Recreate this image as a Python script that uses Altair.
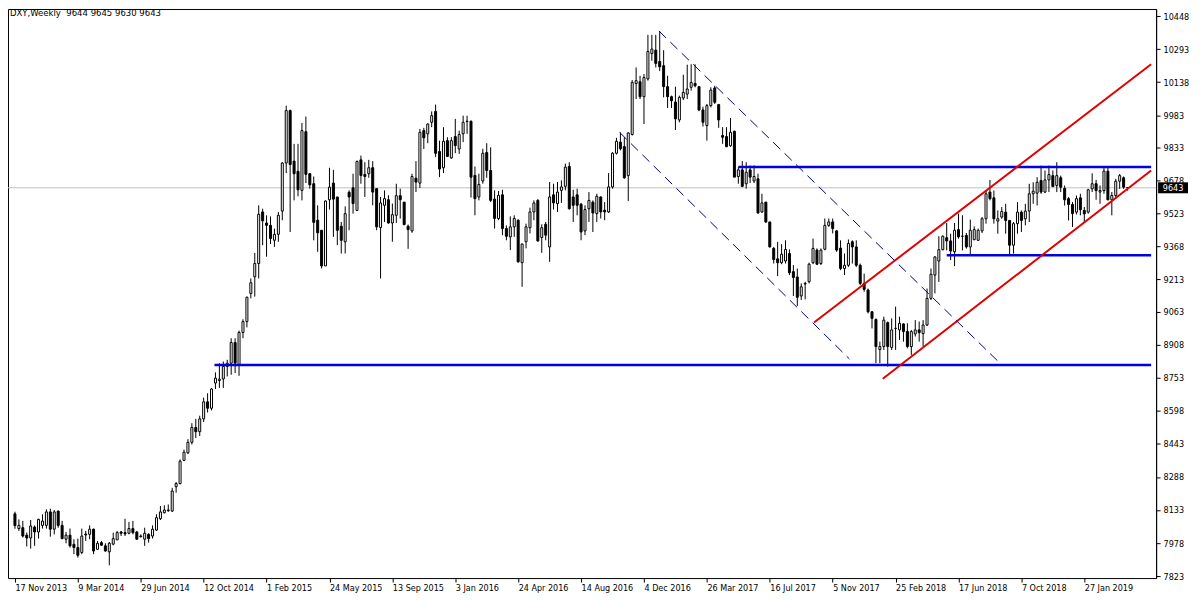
import altair as alt
import pandas as pd

# ---------------- data (weekly DXY candles, prices x100) ----------------
opens = [
    8115, 8046, 8050, 8015, 8002, 8053, 8030, 8061, 8061, 8124,
    8043, 8128, 8061, 7996, 8015, 7972, 7957, 7934, 8020, 8019,
    8043, 7949, 7980, 7965, 7937, 7973, 7993, 8030, 8027, 8024,
    8046, 8030, 8011, 7996, 8019, 8011, 8039, 8092, 8120, 8130,
    8128, 8242, 8257, 8366, 8401, 8450, 8520, 8500, 8560, 8640,
    8610, 8728, 8740, 8747, 8806, 8821, 8918, 8813, 8965, 9016,
    9148, 9226, 9288, 9530, 9478, 9467, 9397, 9425, 9534, 9759,
    10005, 9768, 9720, 9631, 9906, 9709, 9662, 9491, 9444, 9277,
    9587, 9665, 9600, 9463, 9390, 9622, 9643, 9537, 9774, 9706,
    9709, 9737, 9639, 9457, 9561, 9587, 9478, 9514, 9606, 9576,
    9463, 9441, 9688, 9665, 9911, 9896, 9950, 10001, 9813, 9737,
    9864, 9783, 9883, 9825, 9896, 9953, 9955, 9701, 9600, 9675,
    9808, 9724, 9590, 9499, 9610, 9452, 9413, 9460, 9491, 9292,
    9390, 9456, 9530, 9584, 9410, 9472, 9366, 9610, 9569, 9631,
    9650, 9743, 9600, 9610, 9566, 9441, 9545, 9576, 9522, 9600,
    9538, 9530, 9647, 9805, 9857, 9836, 9700, 9893, 10132, 10140,
    10070, 10153, 10272, 10288, 10235, 10215, 10117, 10070, 10045, 9961,
    10064, 10082, 10114, 10132, 10117, 10008, 9935, 10028, 10111, 10033,
    9888, 9883, 9840, 9908, 9696, 9727, 9662, 9727, 9675, 9685,
    9530, 9576, 9483, 9359, 9310, 9292, 9300, 9335, 9250, 9225,
    9136, 9192, 9203, 9292, 9351, 9288, 9355, 9467, 9483, 9441,
    9360, 9265, 9280, 9390, 9366, 9280, 9195, 9164, 9062, 9026,
    8885, 8899, 9011, 8895, 8984, 8977, 9005, 8970, 8899, 8958,
    8977, 8960, 9000, 9125, 9234, 9300, 9353, 9409, 9394, 9343,
    9447, 9416, 9420, 9366, 9400, 9397, 9441, 9498, 9623, 9596,
    9487, 9506, 9529, 9490, 9374, 9475, 9529, 9498, 9534, 9615,
    9618, 9677, 9623, 9680, 9700, 9654, 9690, 9640, 9592, 9565,
    9529, 9596, 9537, 9529, 9638, 9662, 9623, 9630, 9721, 9587,
    9607, 9674, 9690, 9644,
]
highs = [
    8125, 8089, 8082, 8027, 8086, 8061, 8092, 8113, 8136, 8139,
    8133, 8130, 8082, 8030, 8046, 7996, 7999, 8046, 8035, 8061,
    8046, 7988, 7988, 7977, 7983, 8027, 8035, 8035, 8092, 8077,
    8082, 8035, 8019, 8050, 8024, 8061, 8113, 8152, 8155, 8159,
    8237, 8264, 8370, 8416, 8465, 8540, 8560, 8575, 8660, 8680,
    8705, 8778, 8821, 8829, 8837, 8938, 8938, 8974, 9027, 9133,
    9218, 9338, 9561, 9545, 9514, 9509, 9452, 9530, 9763, 10028,
    10010, 9849, 9849, 9947, 9977, 9712, 9696, 9561, 9444, 9584,
    9737, 9727, 9600, 9483, 9556, 9631, 9709, 9771, 9794, 9763,
    9774, 9768, 9639, 9600, 9631, 9608, 9569, 9662, 9639, 9576,
    9471, 9709, 9768, 9919, 9924, 9945, 10001, 10033, 9864, 9927,
    9880, 9880, 9966, 9911, 9981, 9981, 9958, 9743, 9709, 9826,
    9852, 9833, 9631, 9628, 9634, 9467, 9509, 9514, 9495, 9382,
    9475, 9550, 9584, 9590, 9472, 9483, 9670, 9662, 9670, 9678,
    9756, 9763, 9634, 9639, 9572, 9561, 9623, 9584, 9615, 9603,
    9576, 9712, 9810, 9877, 9903, 9880, 9903, 10148, 10207, 10168,
    10176, 10360, 10360, 10360, 10378, 10288, 10168, 10075, 10117, 10075,
    10173, 10220, 10222, 10222, 10117, 10023, 10036, 10114, 10121, 10036,
    9927, 9927, 9970, 9911, 9740, 9768, 9763, 9748, 9748, 9709,
    9615, 9576, 9483, 9366, 9390, 9379, 9397, 9354, 9281, 9265,
    9195, 9203, 9292, 9405, 9359, 9359, 9499, 9499, 9499, 9444,
    9397, 9335, 9401, 9397, 9397, 9288, 9241, 9171, 9065, 9031,
    8922, 9039, 9016, 9031, 9086, 9039, 9008, 9008, 8977, 9023,
    9016, 9023, 9171, 9265, 9322, 9416, 9420, 9478, 9428, 9478,
    9522, 9514, 9431, 9494, 9462, 9452, 9506, 9630, 9680, 9630,
    9537, 9553, 9568, 9490, 9483, 9576, 9537, 9568, 9662, 9669,
    9693, 9747, 9724, 9747, 9724, 9763, 9700, 9654, 9600, 9576,
    9607, 9615, 9553, 9638, 9711, 9680, 9654, 9740, 9740, 9623,
    9685, 9708, 9696, 9645,
]
lows = [
    8045, 8035, 8004, 7962, 7952, 7965, 7999, 8046, 8046, 8008,
    8019, 8050, 7996, 7977, 7957, 7926, 7910, 7926, 7988, 7996,
    7926, 7946, 7965, 7937, 7874, 7968, 7993, 8011, 8011, 8019,
    8019, 7993, 8004, 7965, 7980, 7999, 8035, 8086, 8117, 8124,
    8124, 8214, 8253, 8362, 8395, 8440, 8470, 8480, 8545, 8590,
    8600, 8700, 8705, 8705, 8759, 8767, 8775, 8762, 8938, 8989,
    9125, 9133, 9218, 9374, 9320, 9379, 9366, 9390, 9491, 9712,
    9436, 9584, 9603, 9584, 9665, 9639, 9397, 9343, 9265, 9277,
    9541, 9413, 9374, 9335, 9335, 9444, 9522, 9534, 9662, 9600,
    9690, 9561, 9444, 9218, 9483, 9475, 9390, 9478, 9499, 9467,
    9357, 9432, 9623, 9642, 9825, 9852, 9927, 9787, 9693, 9712,
    9787, 9779, 9805, 9802, 9857, 9896, 9597, 9514, 9584, 9662,
    9690, 9576, 9452, 9491, 9421, 9397, 9351, 9413, 9292, 9179,
    9359, 9429, 9491, 9390, 9338, 9397, 9296, 9541, 9530, 9572,
    9631, 9541, 9483, 9514, 9397, 9421, 9483, 9436, 9483, 9499,
    9491, 9525, 9639, 9799, 9818, 9685, 9581, 9888, 10059, 10059,
    9942, 10145, 10238, 10207, 10190, 10067, 10017, 10017, 9914, 9950,
    10054, 10059, 10098, 10114, 10002, 9930, 9864, 10020, 10036, 9924,
    9849, 9833, 9835, 9693, 9662, 9646, 9639, 9665, 9665, 9522,
    9525, 9478, 9363, 9288, 9229, 9285, 9288, 9234, 9136, 9089,
    9117, 9120, 9195, 9285, 9281, 9281, 9350, 9460, 9429, 9343,
    9257, 9234, 9272, 9288, 9272, 9187, 9156, 9054, 8984, 8821,
    8821, 8883, 8805, 8883, 8883, 8930, 8922, 8891, 8860, 8946,
    8922, 8899, 8995, 9117, 9148, 9202, 9350, 9350, 9304, 9276,
    9405, 9350, 9358, 9332, 9397, 9394, 9431, 9475, 9584, 9475,
    9428, 9498, 9428, 9332, 9335, 9428, 9436, 9467, 9483, 9568,
    9560, 9615, 9618, 9623, 9646, 9623, 9623, 9560, 9490, 9459,
    9518, 9514, 9483, 9522, 9623, 9587, 9568, 9615, 9584, 9514,
    9592, 9638, 9638, 9630,
]
closes = [
    8060, 8061, 8011, 8002, 8058, 8030, 8089, 8081, 8124, 8043,
    8124, 8061, 7999, 8015, 7965, 7957, 7921, 8011, 8016, 8043,
    7941, 7977, 7968, 7941, 7977, 7999, 8027, 8024, 8021, 8046,
    8027, 7996, 8008, 8024, 7999, 8043, 8097, 8124, 8133, 8133,
    8222, 8257, 8362, 8404, 8450, 8520, 8500, 8560, 8640, 8610,
    8700, 8751, 8746, 8806, 8821, 8918, 8821, 8965, 9016, 9130,
    9198, 9288, 9519, 9488, 9467, 9405, 9425, 9514, 9759, 10005,
    9752, 9709, 9634, 9911, 9706, 9657, 9481, 9432, 9277, 9581,
    9646, 9590, 9444, 9397, 9522, 9600, 9569, 9766, 9701, 9696,
    9737, 9623, 9460, 9572, 9592, 9478, 9517, 9606, 9587, 9471,
    9447, 9696, 9670, 9903, 9877, 9942, 9981, 9805, 9731, 9861,
    9790, 9864, 9841, 9893, 9950, 9955, 9693, 9592, 9659, 9805,
    9724, 9584, 9499, 9608, 9452, 9416, 9460, 9499, 9296, 9379,
    9460, 9530, 9572, 9394, 9456, 9421, 9600, 9572, 9623, 9647,
    9740, 9545, 9561, 9561, 9436, 9541, 9584, 9525, 9603, 9530,
    9530, 9647, 9805, 9861, 9826, 9690, 9900, 10137, 10145, 10070,
    10160, 10282, 10293, 10226, 10210, 10117, 10070, 10051, 9966, 10067,
    10090, 10106, 10137, 10121, 10008, 9950, 10028, 10101, 10044, 9961,
    9880, 9836, 9903, 9693, 9727, 9650, 9716, 9693, 9696, 9525,
    9572, 9483, 9366, 9307, 9292, 9332, 9354, 9245, 9223, 9130,
    9179, 9195, 9285, 9359, 9285, 9351, 9467, 9483, 9452, 9351,
    9265, 9280, 9382, 9366, 9280, 9195, 9167, 9062, 9031, 8899,
    8899, 9023, 8899, 8977, 8984, 9008, 8969, 8899, 8969, 8977,
    8964, 9000, 9125, 9238, 9319, 9353, 9416, 9394, 9347, 9444,
    9413, 9416, 9366, 9444, 9447, 9444, 9498, 9615, 9592, 9498,
    9498, 9532, 9490, 9374, 9475, 9529, 9490, 9534, 9615, 9627,
    9669, 9623, 9680, 9705, 9649, 9700, 9646, 9587, 9565, 9522,
    9592, 9540, 9521, 9634, 9662, 9630, 9630, 9721, 9587, 9607,
    9674, 9700, 9646, 9643,
]

x_tick_labels = [
    "17 Nov 2013", "9 Mar 2014", "29 Jun 2014", "12 Oct 2014", "1 Feb 2015",
    "24 May 2015", "13 Sep 2015", "3 Jan 2016", "24 Apr 2016", "14 Aug 2016",
    "4 Dec 2016", "26 Mar 2017", "16 Jul 2017", "5 Nov 2017", "25 Feb 2018",
    "17 Jun 2018", "7 Oct 2018", "27 Jan 2019",
]
bars_per_label = 16
y_tick_values = [10448, 10293, 10138, 9983, 9833, 9678, 9523, 9368, 9213,
                 9063, 8908, 8753, 8598, 8443, 8288, 8133, 7978, 7823]

# drawn objects (bar index, price)
hline_start = [50.75, 184.0, 237.0]
hline_price = [8813, 9741, 9327]
channel_x1 = [203.25, 220.75]
channel_y1 = [9012, 8748]
channel_x2 = [289.0, 289.0]
channel_y2 = [10222, 9724]
dash_x1 = [163.8, 153.8]
dash_y1 = [10378, 9903]
dash_x2 = [250.5, 212.25]
dash_y2 = [8822, 8841]

title_text = "DXY,Weekly\u00a0 9644 9645 9630 9643"
last_price = 9643

# ---------------- chart ----------------
X_MAX = 289.0
W, H = 1152, 571
FONT = "DejaVu Sans Condensed, DejaVu Sans, sans-serif"

df = pd.DataFrame({
    "i": list(range(len(opens))),
    "open": opens, "high": highs, "low": lows, "close": closes,
})
df["hi"] = df[["high", "open", "close"]].max(axis=1)
df["lo"] = df[["low", "open", "close"]].min(axis=1)
df["bull"] = df["close"] >= df["open"]

xscale = alt.Scale(domain=[-0.5, X_MAX], nice=False, zero=False)
yscale = alt.Scale(domain=[7814, 10481], nice=False, zero=False)

label_arr = "[" + ",".join("'%s'" % s for s in x_tick_labels) + "]"
x_axis = alt.Axis(
    values=[bars_per_label * k for k in range(len(x_tick_labels))],
    labelExpr=label_arr + "[round(datum.value/%d)]" % bars_per_label,
    labelAlign="left", labelBaseline="top", labelPadding=1,
    tickSize=4, tickColor="black", domain=False, grid=False,
    labelOverlap=False, labelFont=FONT, labelFontSize=9, labelColor="black",
    title=None, labelBound=False, labelFlush=False,
)
y_axis = alt.Axis(
    orient="right", values=y_tick_values, format="d",
    tickSize=4, tickColor="black", domain=True, domainColor="black",
    grid=False, labelOverlap=False, labelFont=FONT, labelFontSize=9,
    labelColor="black", labelPadding=3, title=None, labelFlush=False,
    labelBound=False,
)

X = alt.X("i:Q", scale=xscale, axis=x_axis)
Y = alt.Y("lo:Q", scale=yscale, axis=y_axis)

base = alt.Chart(df)

price_df = pd.DataFrame({"p": [last_price], "label": [str(last_price)]})
price_line = alt.Chart(price_df).mark_rule(color="#c0c0c0", strokeWidth=1).encode(
    y=alt.Y("p:Q", scale=yscale, axis=y_axis)
)

wicks = base.mark_rule(color="black", strokeWidth=1).encode(
    x=X, y=Y, y2="hi:Q"
)
bodies = base.mark_bar(size=2, stroke="black", strokeWidth=1).encode(
    x=alt.X("i:Q", scale=xscale, axis=x_axis),
    y=alt.Y("open:Q", scale=yscale, axis=y_axis),
    y2="close:Q",
    color=alt.condition("datum.bull", alt.value("white"), alt.value("black")),
)

hdf = pd.DataFrame({"x": hline_start, "x2": [X_MAX] * len(hline_start),
                    "y": hline_price})
hlines = alt.Chart(hdf).mark_rule(color="#0000e0", strokeWidth=2.5, clip=True).encode(
    x=alt.X("x:Q", scale=xscale, axis=x_axis), x2="x2:Q",
    y=alt.Y("y:Q", scale=yscale, axis=y_axis),
)

cdf = pd.DataFrame({"x": channel_x1, "y": channel_y1, "x2": channel_x2, "y2": channel_y2})
channel = alt.Chart(cdf).mark_rule(color="#e00000", strokeWidth=2, clip=True).encode(
    x=alt.X("x:Q", scale=xscale, axis=x_axis), x2="x2:Q",
    y=alt.Y("y:Q", scale=yscale, axis=y_axis), y2="y2:Q",
)

ddf = pd.DataFrame({"x": dash_x1, "y": dash_y1, "x2": dash_x2, "y2": dash_y2})
dashed = alt.Chart(ddf).mark_rule(color="#000080", strokeWidth=1,
                                  strokeDash=[10, 6], clip=True).encode(
    x=alt.X("x:Q", scale=xscale, axis=x_axis), x2="x2:Q",
    y=alt.Y("y:Q", scale=yscale, axis=y_axis), y2="y2:Q",
)

title = alt.Chart(price_df).mark_text(
    align="left", baseline="middle", font=FONT, fontSize=9.5, color="black"
).encode(x=alt.value(2), y=alt.value(4), text=alt.value(title_text))

price_box = alt.Chart(price_df).mark_tick(
    color="black", thickness=11, size=30, orient="horizontal", opacity=1
).encode(x=alt.value(W + 17), y=alt.Y("p:Q", scale=yscale, axis=y_axis))

price_txt = alt.Chart(price_df).mark_text(
    color="white", align="center", baseline="middle", font=FONT, fontSize=9
).encode(x=alt.value(W + 17), y=alt.Y("p:Q", scale=yscale, axis=y_axis),
         text="label:N")

chart = alt.layer(
    price_line, wicks, bodies, hlines, channel, dashed, title, price_box, price_txt
).properties(
    width=W, height=H,
    autosize=alt.AutoSizeParams(type="none"),
    padding={"left": 0, "top": 0, "right": 36, "bottom": 18},
    background="white",
).configure_view(
    stroke="black", strokeWidth=1
)

chart.save("out.html", embed_options={"renderer": "svg", "actions": False})
